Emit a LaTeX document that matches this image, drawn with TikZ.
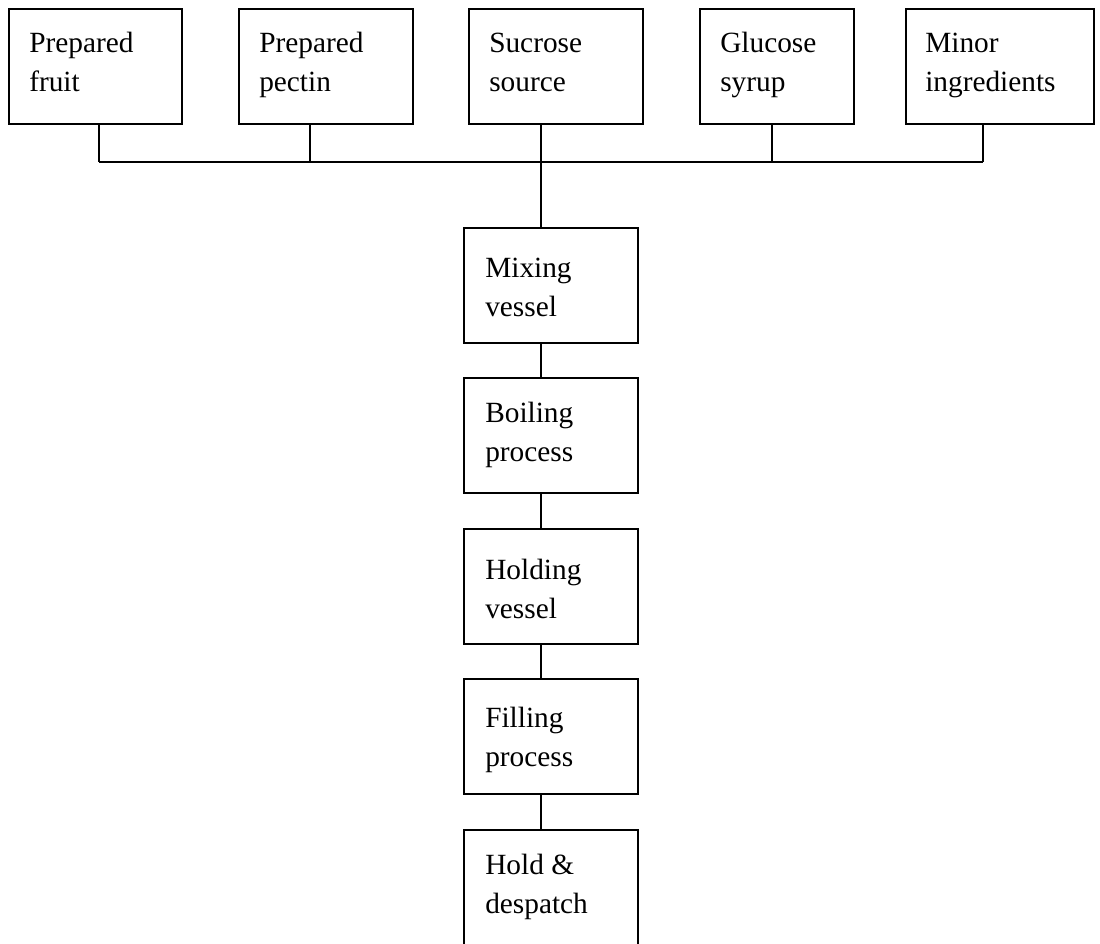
\documentclass[tikz,border=0pt]{standalone}
\usepackage{fontspec}
\setmainfont{Liberation Serif}
\usetikzlibrary{calc}
\begin{document}
\begin{tikzpicture}[x=0.75pt,y=-0.75pt,
  stepbox/.style={draw=black,line width=1.4pt,rectangle,inner sep=0pt,anchor=north west},
  topbox/.style={stepbox,minimum height=86.25pt},
  colbox/.style={stepbox,minimum width=130.5pt,minimum height=86.25pt},
  lbl/.style={anchor=base west,inner sep=0pt,align=left,font=\fontsize{22}{29.25}\selectfont},
  conn/.style={draw=black,line width=1.4pt}]
\useasboundingbox (0,0) rectangle (1100,943);
\clip (0,0) rectangle (1100,943);
% top row
\node[topbox,minimum width=129.75pt] (pf) at (8,8) {};
\node[topbox,minimum width=130.5pt] (pp) at (238,8) {};
\node[topbox,minimum width=130.5pt] (ss) at (468,8) {};
\node[topbox,minimum width=115.5pt] (gs) at (699,8) {};
\node[topbox,minimum width=141pt] (mi) at (905,8) {};
\node[lbl] (tpf) at ($(pf.north west)+(21,83)$) {Prepared\\fruit};
\node[lbl] (tpp) at ($(pp.north west)+(21,83)$) {Prepared\\pectin};
\node[lbl] (tss) at ($(ss.north west)+(21,83)$) {Sucrose\\source};
\node[lbl] (tgs) at ($(gs.north west)+(21,83)$) {Glucose\\syrup};
\node[lbl] (tmi) at ($(mi.north west)+(20,83)$) {Minor\\ingredients};
% column
\node[colbox] (mix) at (463,227) {};
\node[colbox] (boil) at (463,377) {};
\node[colbox] (hold) at (463,528) {};
\node[colbox] (fill) at (463,678) {};
\node[colbox,minimum height=105pt] (hd) at (463,829) {};
\node[lbl] (tmix) at ($(mix.north west)+(22,89)$) {Mixing\\vessel};
\node[lbl] (tboil) at ($(boil.north west)+(22,84)$) {Boiling\\process};
\node[lbl] (thold) at ($(hold.north west)+(22,90)$) {Holding\\vessel};
\node[lbl] (tfill) at ($(fill.north west)+(22,88)$) {Filling\\process};
\node[lbl] (thd) at ($(hd.north west)+(22,84)$) {Hold \&\\despatch};
% junctions
\coordinate (j1) at (99,162);
\coordinate (j2) at (310,162);
\coordinate (j3) at (541,162);
\coordinate (j4) at (772,162);
\coordinate (j5) at (983,162);
\draw[conn] (pf.south -| j1) -- (j1);
\draw[conn] (pp.south -| j2) -- (j2);
\draw[conn] (ss.south -| j3) -- (mix.north -| j3);
\draw[conn] (gs.south -| j4) -- (j4);
\draw[conn] (mi.south -| j5) -- (j5);
\draw[conn] (j1) -- (j5);
\draw[conn] (mix.south -| j3) -- (boil.north -| j3);
\draw[conn] (boil.south -| j3) -- (hold.north -| j3);
\draw[conn] (hold.south -| j3) -- (fill.north -| j3);
\draw[conn] (fill.south -| j3) -- (hd.north -| j3);
\end{tikzpicture}
\end{document}
